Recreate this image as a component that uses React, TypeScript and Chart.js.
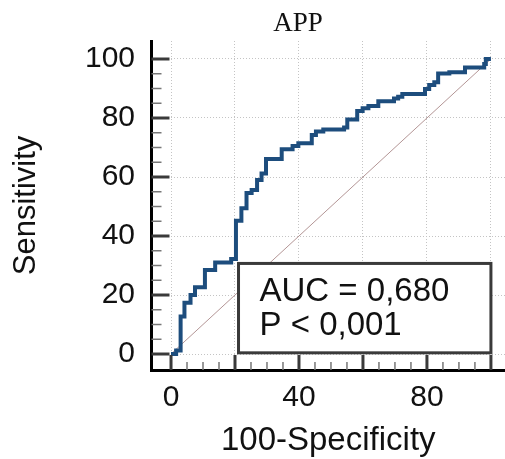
import React, { useEffect, useRef } from 'react';
import { Chart, registerables } from 'chart.js';

Chart.register(...registerables);

// ---- text ----
const chartTitle = 'APP';
const xTitle = '100-Specificity';
const yTitle = 'Sensitivity';
const aucLabel = 'AUC = 0,680';
const pLabel = 'P < 0,001';

// ---- ROC curve (100-Specificity, Sensitivity) ----
const rocFpr = [0, 1.6, 3.0, 4.2, 6.1, 7.5, 10.6, 13.8, 18.8, 20.3, 22.0, 23.6, 25.2, 26.9, 28.3, 29.7, 34.6, 38.0, 39.8, 44.0, 45.3, 47.6, 54.1, 55.1, 58.2, 59.9, 61.7, 64.8, 69.7, 71.0, 72.3, 79.4, 80.7, 82.3, 83.5, 87.0, 91.9, 97.9, 98.4, 100];
const rocTpr = [0, 1.2, 12.7, 17.4, 20.0, 22.6, 28.5, 31.0, 32.2, 45.2, 49.4, 54.6, 55.6, 59.0, 61.2, 66.1, 69.4, 70.5, 71.4, 74.2, 75.4, 76.1, 76.8, 79.5, 82.4, 83.3, 84.1, 85.7, 86.6, 87.2, 88.1, 89.8, 91.2, 92.1, 95.1, 95.5, 97.1, 98.3, 100, 100];

// ---- reference diagonal ----
const diagX = [0, 100];
const diagY = [0, 100];

// ---- axes ----
const majorTicks = [0, 20, 40, 60, 80, 100];
const minorTicks = [5, 10, 15, 25, 30, 35, 45, 50, 55, 65, 70, 75, 85, 90, 95];
const xLabelValues = [0, 40, 80];
const xRange = [-6.1, 104.4];
const yRange = [-5.42, 106.1];

// AUC box extent in data units
const boxX = [21.1, 100];
const boxY = [0.4, 30.7];

const FONT = '"Liberation Sans", Arial, sans-serif';

const decorPlugin = {
  id: 'decor',
  afterDatasetsDraw(chart: any) {
    const { ctx, chartArea } = chart;
    const xs = chart.scales.x;
    const ys = chart.scales.y;
    const axX = chartArea.left;
    const axY = chartArea.bottom;
    ctx.save();
    ctx.lineCap = 'butt';
    const line = (x1: number, y1: number, x2: number, y2: number, w: number, c: string) => {
      ctx.beginPath();
      ctx.lineWidth = w;
      ctx.strokeStyle = c;
      ctx.moveTo(x1, y1);
      ctx.lineTo(x2, y2);
      ctx.stroke();
    };
    minorTicks.forEach((v) => {
      const px = xs.getPixelForValue(v);
      line(px, axY, px, axY - 8, 1.5, '#777777');
      const py = ys.getPixelForValue(v);
      line(axX, py, axX + 10, py, 1.5, '#777777');
    });
    majorTicks.forEach((v) => {
      const px = xs.getPixelForValue(v);
      line(px, axY, px, axY - 15, 3, '#3a3a3a');
      const py = ys.getPixelForValue(v);
      line(axX, py, axX + 18, py, 3, '#3a3a3a');
    });

    // AUC box
    const l = xs.getPixelForValue(boxX[0]);
    const r = xs.getPixelForValue(boxX[1]);
    const t = ys.getPixelForValue(boxY[1]);
    const b = ys.getPixelForValue(boxY[0]);
    ctx.fillStyle = '#ffffff';
    ctx.fillRect(l, t, r - l, b - t);
    ctx.lineWidth = 3;
    ctx.strokeStyle = '#3a3a3a';
    ctx.strokeRect(l, t, r - l, b - t);
    ctx.fillStyle = '#111111';
    ctx.font = `33px ${FONT}`;
    ctx.textAlign = 'left';
    ctx.textBaseline = 'alphabetic';
    ctx.fillText(aucLabel, l + 21, t + 38);
    ctx.fillText(pLabel, l + 21, t + 72);

    // chart title
    ctx.font = '27px "Liberation Serif", "Times New Roman", serif';
    ctx.textAlign = 'center';
    ctx.fillText(chartTitle, 298, 31);
    ctx.restore();
  },
};

export default function App() {
  const ref = useRef<HTMLCanvasElement | null>(null);

  useEffect(() => {
    if (!ref.current) return;
    const chart = new Chart(ref.current, {
      type: 'line',
      data: {
        datasets: [
          {
            label: 'ROC',
            data: rocFpr.map((v, i) => ({ x: v, y: rocTpr[i] })),
            borderColor: '#1d4d7d',
            borderWidth: 4,
            pointRadius: 0,
            stepped: 'before',
            fill: false,
            order: 0,
          },
          {
            label: 'Reference',
            data: diagX.map((v, i) => ({ x: v, y: diagY[i] })),
            borderColor: '#b39595',
            borderWidth: 1,
            pointRadius: 0,
            fill: false,
            order: 1,
          },
        ],
      },
      options: {
        animation: false,
        responsive: true,
        maintainAspectRatio: false,
        layout: { padding: { top: 41, right: 0, bottom: 0, left: 0 } },
        plugins: {
          legend: { display: false },
          tooltip: { enabled: false },
          title: { display: false },
        },
        scales: {
          x: {
            type: 'linear',
            min: xRange[0],
            max: xRange[1],
            afterBuildTicks: (s: any) => {
              s.ticks = majorTicks.map((v) => ({ value: v }));
            },
            afterFit: (s: any) => {
              s.height = 89;
            },
            grid: {
              color: '#c4c4c4',
              lineWidth: 1,
              drawTicks: false,
            },
            border: { display: true, color: '#000000', width: 3, dash: [1, 2] },
            ticks: {
              autoSkip: false,
              maxRotation: 0,
              padding: 9.5,
              color: '#111111',
              font: { family: FONT, size: 30 },
              callback: (v: any) => (xLabelValues.includes(Number(v)) ? String(v) : ''),
            },
            title: {
              display: true,
              text: xTitle,
              color: '#111111',
              font: { family: FONT, size: 33, lineHeight: 1.1 },
              padding: { top: 0, bottom: 0 },
            },
          },
          y: {
            type: 'linear',
            min: yRange[0],
            max: yRange[1],
            afterBuildTicks: (s: any) => {
              s.ticks = majorTicks.map((v) => ({ value: v }));
            },
            afterFit: (s: any) => {
              s.width = 151.5;
            },
            grid: {
              color: '#c4c4c4',
              lineWidth: 1,
              drawTicks: false,
            },
            border: { display: true, color: '#000000', width: 3, dash: [1, 2] },
            ticks: {
              padding: 16.5,
              color: '#111111',
              font: { family: FONT, size: 30 },
              callback: (v: any) => String(v),
            },
            title: {
              display: true,
              text: yTitle,
              color: '#111111',
              font: { family: FONT, size: 31, lineHeight: 1.1 },
              padding: { top: 9, bottom: 0 },
            },
          },
        },
      },
      plugins: [decorPlugin],
    } as any);
    return () => chart.destroy();
  }, []);

  return (
    <div style={{ position: 'fixed', left: 0, top: 0, width: 505, height: 459, background: '#ffffff' }}>
      <canvas ref={ref} />
    </div>
  );
}
